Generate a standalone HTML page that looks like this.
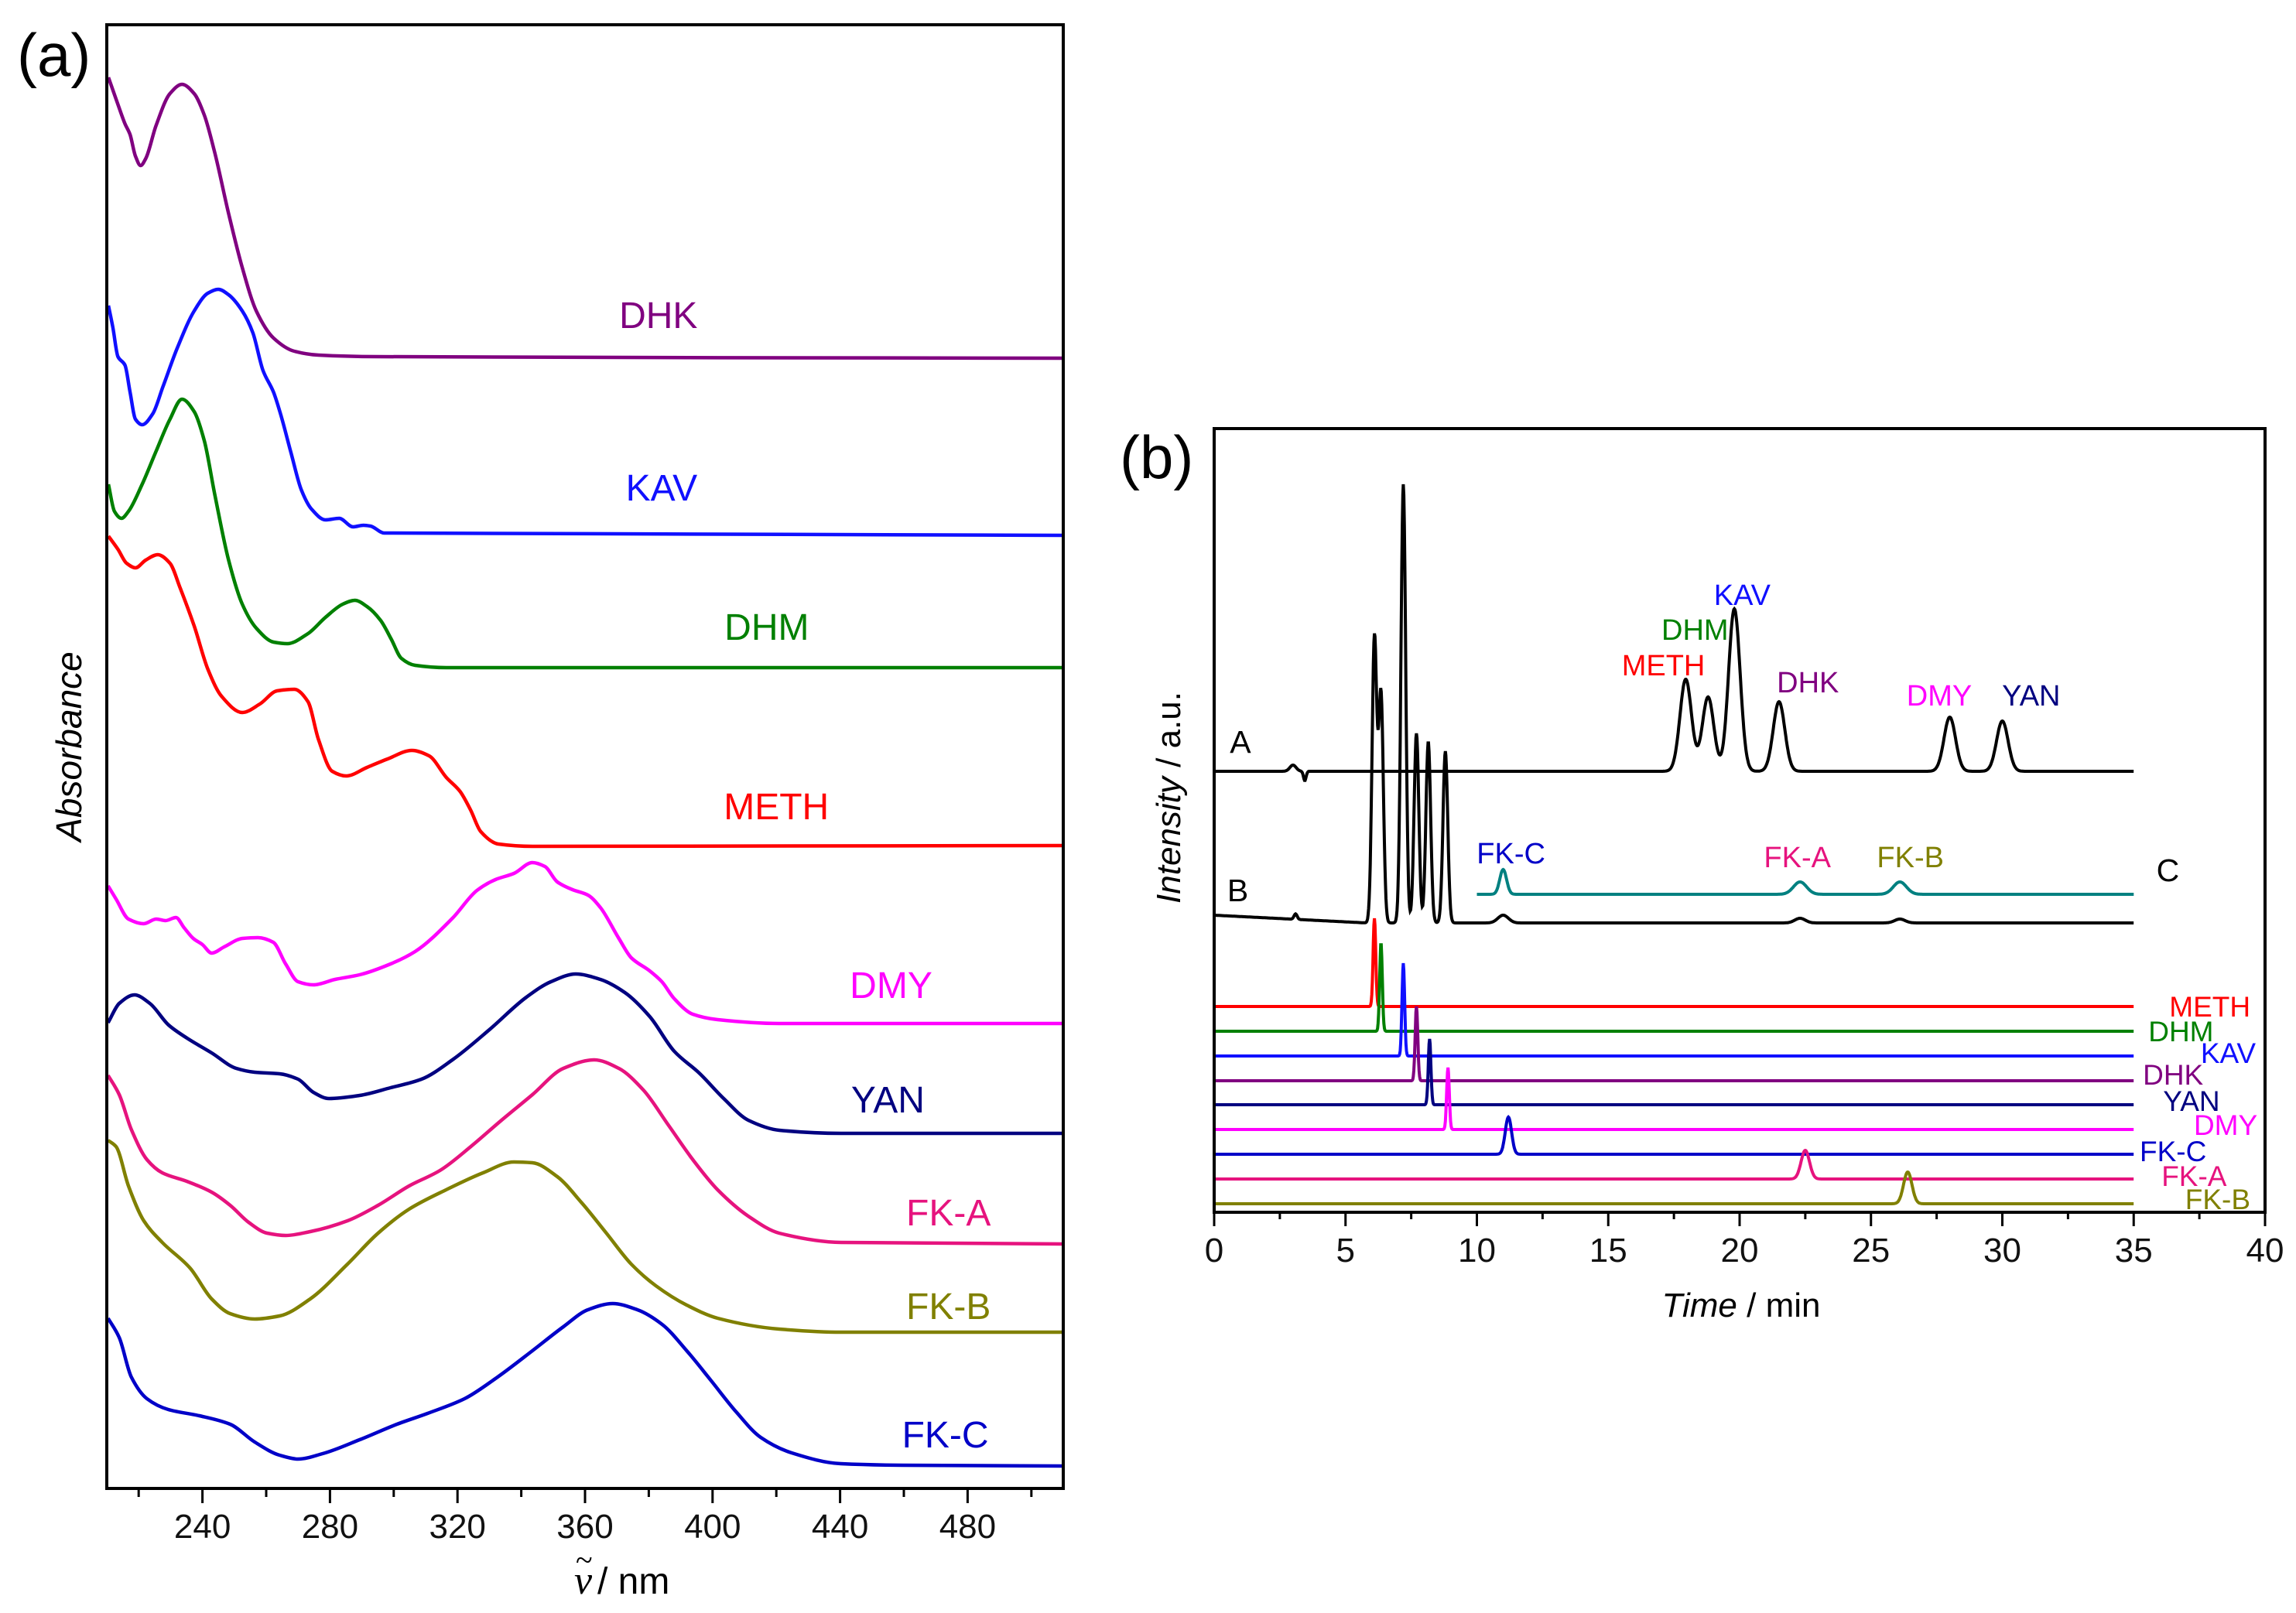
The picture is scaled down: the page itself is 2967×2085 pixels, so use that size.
<!DOCTYPE html>
<html><head><meta charset="utf-8"><style>
html,body{margin:0;padding:0;background:#fff;}
svg{display:block;font-family:"Liberation Sans",Arial,sans-serif;}
</style></head><body>
<svg id="fig" width="2967" height="2085" viewBox="0 0 2967 2085" xmlns="http://www.w3.org/2000/svg">
<rect x="0" y="0" width="2967" height="2085" fill="#fff"/>
<g id="pa"></g>
<g id="pb"></g>
</svg>
<script>
// ---------- Panel (a) data: UV spectra (wavelength nm, absorbance offset a.u.) ----------
const uvNames = ["DHK","KAV","DHM","METH","DMY","YAN","FK-A","FK-B","FK-C"];
const uvColors = ["#800080","#1010ff","#008000","#ff0000","#ff00ff","#000080","#e6137e","#808000","#0000c8"];
const uvWl_DHK = [210.5,213.5,215.7,217.3,219,220.6,222.2,225.4,229.8,233.6,237.4,240.6,243.9,248.2,252.5,256.9,262.3,268.8,276.4,294.8,510];
const uvAbs_DHK = [18.24,17.89,17.64,17.50,17.22,17.10,17.19,17.61,18.03,18.15,18.03,17.75,17.26,16.48,15.78,15.22,14.87,14.70,14.65,14.63,14.61];
const uvWl_KAV = [210.5,211.9,213.5,215.7,217.3,219,221.1,224.4,227.6,232,237.4,241.7,245,248.2,252.5,255.8,259,262.3,264.5,267.7,271,274.2,278.6,282.9,287.2,290.5,292.7,297,510];
const uvAbs_KAV = [15.29,15.01,14.63,14.52,14.17,13.82,13.75,13.89,14.24,14.73,15.22,15.45,15.50,15.43,15.22,14.94,14.45,14.17,13.89,13.40,12.91,12.66,12.52,12.54,12.43,12.45,12.44,12.35,12.32];
const uvWl_DHM = [210.5,212.4,214.6,216.8,221.1,225.4,229.8,233.6,237.4,240.6,243.9,248.2,252.5,256.9,262.3,266.6,273.1,278.6,284,287.8,291.6,295.9,299.2,302.4,306.7,316.5,510];
const uvAbs_DHM = [12.98,12.63,12.54,12.63,12.98,13.40,13.82,14.08,13.92,13.54,12.84,12.00,11.43,11.12,10.94,10.92,11.05,11.26,11.43,11.48,11.40,11.22,10.98,10.73,10.64,10.61,10.61];
const uvWl_METH = [210.5,213.5,216.2,219,222.2,226,229.8,233,237.4,241.7,246,252.5,258,263.4,268.8,273.1,276.4,280.7,285.1,291.6,298.1,305.7,311.1,316.5,320.8,324.1,327.3,332.8,343.6,510];
const uvAbs_METH = [12.31,12.14,11.96,11.90,12.00,12.07,11.96,11.64,11.15,10.59,10.24,10.03,10.14,10.31,10.33,10.17,9.68,9.27,9.21,9.32,9.43,9.54,9.47,9.19,9.01,8.77,8.49,8.33,8.30,8.31];
const uvWl_DMY = [210.4,212.9,216.8,221.6,225.5,228.4,231.7,234.2,237.1,240,242.9,246.8,252.6,257.4,262.2,266.1,270,274.8,281.6,289.3,299,306.7,318.4,326.1,331.9,337.7,343.5,347.4,351.3,356.1,360.9,364.8,370.6,374.5,380.3,384.1,388,393.8,401.6,420.9,510];
const uvAbs_DMY = [7.79,7.62,7.36,7.30,7.36,7.34,7.38,7.25,7.11,7.03,6.92,7.00,7.11,7.12,7.06,6.78,6.55,6.51,6.58,6.64,6.78,6.94,7.37,7.73,7.87,7.95,8.09,8.04,7.84,7.74,7.67,7.51,7.11,6.86,6.69,6.55,6.33,6.13,6.06,6.01,6.01];
const uvWl_YAN = [210.4,213.9,218.7,223.5,229.4,235.2,242.9,250.6,256.4,264.2,270,274.8,279.7,289.3,299,308.7,318.4,330,341.6,349.3,357.1,364.8,372.5,380.3,388,395.8,403.5,411.2,420.9,440.3,510];
const uvAbs_YAN = [6.02,6.27,6.38,6.27,5.99,5.82,5.63,5.43,5.38,5.36,5.29,5.12,5.04,5.08,5.18,5.29,5.54,5.93,6.35,6.55,6.65,6.58,6.41,6.10,5.65,5.37,5.04,4.76,4.63,4.59,4.59];
const uvWl_FKA = [210.4,213.9,217.7,222.6,227.4,235.1,242.9,248.7,254.5,260.3,266.1,273.8,285.5,295.1,304.8,314.5,324.2,333.8,343.5,353.2,362.9,370.6,378.3,386.1,393.8,401.6,411.2,420.9,440.3,510];
const uvAbs_FKA = [5.34,5.09,4.64,4.25,4.08,3.97,3.83,3.66,3.44,3.30,3.27,3.32,3.46,3.66,3.91,4.11,4.42,4.76,5.09,5.43,5.54,5.43,5.15,4.70,4.25,3.86,3.52,3.30,3.18,3.16];
const uvWl_FKB = [210.4,212.9,216.8,221.6,227.4,236.1,242.9,248.7,256.4,264.2,273.8,285.5,295.1,304.8,316.4,328,337.7,343.5,351.3,359,366.7,374.5,382.2,391.9,401.6,420.9,440.3,510];
const uvAbs_FKB = [4.50,4.42,3.91,3.46,3.18,2.85,2.45,2.26,2.19,2.23,2.45,2.90,3.30,3.61,3.86,4.08,4.22,4.21,4.03,3.69,3.30,2.90,2.62,2.37,2.20,2.06,2.02,2.02];
const uvWl_FKC = [210.4,213.9,217.7,222.6,229.3,239,248.7,256.4,264.2,270,277.7,289.3,301,310.6,322.2,331.9,343.5,353.2,360.9,368.7,376.4,384.2,391.9,399.6,407.4,415.1,424.8,440.3,459.6,510];
const uvAbs_FKC = [2.20,1.95,1.44,1.16,1.02,0.94,0.83,0.60,0.43,0.38,0.45,0.63,0.83,0.97,1.16,1.42,1.78,2.09,2.31,2.39,2.31,2.12,1.78,1.39,0.99,0.66,0.46,0.32,0.30,0.29];
const uvLabelWl = [383,384,417,420,456,455,474,474,473];
const uvLabelAbs = [15.17,12.94,11.14,8.82,6.51,5.03,3.57,2.36,0.70];
const uvTicks = [240,280,320,360,400,440,480];
const uvMinor = [220,260,300,340,380,420,460,500];

// ---------- Panel (b) data: chromatograms (time min, intensity a.u.) ----------
const bTicks = [0,5,10,15,20,25,30,35,40];
const bMinor = [2.5,7.5,12.5,17.5,22.5,27.5,32.5,37.5];
const aPeakT = [17.95,18.8,19.8,21.5,28.0,30.0];
const aPeakH = [1.19,0.96,2.10,0.90,0.70,0.65];
const aOffset = 5.70;
const bPeakT = [6.1,6.35,7.2,7.7,8.15,8.8,11.0,22.3,26.1,3.1];
const bPeakH = [3.68,2.95,5.67,2.45,2.34,2.22,0.10,0.06,0.05,0.07];
const bOffset = 3.74;
const cPeakT = [11.0,22.3,26.1];
const cPeakH = [0.32,0.16,0.16];
const cOffset = 4.11;
const stdNames = ["METH","DHM","KAV","DHK","YAN","DMY","FK-C","FK-A","FK-B"];
const stdColors = ["#ff0000","#008000","#1010ff","#800080","#000080","#ff00ff","#0000c8","#e6137e","#808000"];
const stdPeakT = [6.1,6.35,7.2,7.7,8.2,8.9,11.2,22.5,26.4];
const stdPeakH = [1.14,1.14,1.20,0.96,0.85,0.80,0.48,0.37,0.41];
const stdOffset = [2.66,2.34,2.02,1.70,1.39,1.07,0.75,0.43,0.11];
const stdLabelT = [37.9,36.8,38.6,36.5,37.2,38.5,36.5,37.3,38.2];
const stdLabelI = [2.66,2.34,2.06,1.78,1.44,1.13,0.79,0.47,0.17];
const aLabels = ["METH","DHM","KAV","DHK","DMY","YAN"];
const aLabelColors = ["#ff0000","#008000","#1010ff","#800080","#ff00ff","#000080"];
const aLabelT = [17.1,18.3,20.1,22.6,27.6,31.1];
const aLabelI = [7.08,7.54,7.99,6.86,6.69,6.69];
const fkLabels = ["FK-C","FK-A","FK-B"];
const fkLabelColors = ["#0000c8","#e6137e","#808000"];
const fkLabelT = [11.3,22.2,26.5];
const fkLabelI = [4.65,4.60,4.60];

const NS = "http://www.w3.org/2000/svg";
function mk(tag, attrs, parent){const e=document.createElementNS(NS,tag);for(const k in attrs)e.setAttribute(k,attrs[k]);parent.appendChild(e);return e;}
// monotone cubic (Fritsch-Carlson) interpolation, no overshoot
function smooth(pts){const n=pts.length;const dx=[],m=[],t=[];
 for(let i=0;i<n-1;i++){dx.push(pts[i+1][0]-pts[i][0]);m.push((pts[i+1][1]-pts[i][1])/dx[i]);}
 t[0]=m[0];t[n-1]=m[n-2];
 for(let i=1;i<n-1;i++){if(m[i-1]*m[i]<=0)t[i]=0;else{const w1=2*dx[i]+dx[i-1],w2=dx[i]+2*dx[i-1];t[i]=(w1+w2)/(w1/m[i-1]+w2/m[i]);}}
 let d="M"+pts[0][0].toFixed(1)+","+pts[0][1].toFixed(1);
 for(let i=0;i<n-1;i++){const h=dx[i]/3;
  d+="C"+(pts[i][0]+h).toFixed(1)+","+(pts[i][1]+t[i]*h).toFixed(1)+" "+(pts[i+1][0]-h).toFixed(1)+","+(pts[i+1][1]-t[i+1]*h).toFixed(1)+" "+pts[i+1][0].toFixed(1)+","+pts[i+1][1].toFixed(1);}
 return d;}

// ---------- Panel (a) ----------
const pa=document.getElementById("pa");
const aL=138,aR=1374,aT=32,aB=1924;
const xA=nm=>aL+(nm-210)/(510-210)*(aR-aL);
const yA=v=>aB-v*100;
const uvWl=[uvWl_DHK,uvWl_KAV,uvWl_DHM,uvWl_METH,uvWl_DMY,uvWl_YAN,uvWl_FKA,uvWl_FKB,uvWl_FKC];
const uvAbs=[uvAbs_DHK,uvAbs_KAV,uvAbs_DHM,uvAbs_METH,uvAbs_DMY,uvAbs_YAN,uvAbs_FKA,uvAbs_FKB,uvAbs_FKC];
for(let s=0;s<uvNames.length;s++){
 const pts=uvWl[s].map((w,i)=>[xA(w),yA(uvAbs[s][i])]);
 const p=mk("path",{d:smooth(pts),fill:"none",stroke:uvColors[s],"stroke-width":4.5,"stroke-linejoin":"round"},pa);
 
 
 const t=mk("text",{x:xA(uvLabelWl[s]),y:yA(uvLabelAbs[s])+17,"font-size":48,fill:uvColors[s],"text-anchor":"middle"},pa);
 t.textContent=uvNames[s];
 
 
}
const fa=mk("rect",{x:aL,y:aT,width:aR-aL,height:aB-aT,fill:"none",stroke:"#000","stroke-width":4},pa);


uvTicks.forEach(v=>{
 const l=mk("line",{x1:xA(v),x2:xA(v),y1:aB,y2:aB+19,stroke:"#000","stroke-width":3},pa);
 
 
 const t=mk("text",{x:xA(v),y:aB+64,"font-size":44,"text-anchor":"middle",fill:"#111"},pa);
 t.textContent=v;
 
 
});
uvMinor.forEach(v=>{
 const l=mk("line",{x1:xA(v),x2:xA(v),y1:aB,y2:aB+11,stroke:"#000","stroke-width":3},pa);
 
 
});

// ---------- Panel (b) ----------
const pb=document.getElementById("pb");
const bL=1569,bR=2927,bT=554,bB=1567;
const xB=t=>bL+t/40*(bR-bL);
const yB=v=>bB-v*100;
function trace(t0,t1,off,pt,ph,sig,extra){const pts=[];
 for(let t=t0;t<=t1+1e-9;t+=0.02){let v=off;
  for(let i=0;i<pt.length;i++){const sg=sig(pt[i]);v+=ph[i]*Math.exp(-0.5*Math.pow((t-pt[i])/sg,2));}
  if(extra)v+=extra(t);pts.push([xB(t),yB(v)]);}
 return "M"+pts.map(p=>p[0].toFixed(1)+","+p[1].toFixed(1)).join("L");}
const sigWide=t=>t<10?0.08:(t<15?0.12:0.22);
let e;
e=mk("path",{d:trace(0,35,aOffset,aPeakT,aPeakH,sigWide,t=>0.08*Math.exp(-0.5*Math.pow((t-3.0)/0.12,2))-0.12*Math.exp(-0.5*Math.pow((t-3.45)/0.05,2))),fill:"none",stroke:"#000","stroke-width":4},pb);


e=mk("path",{d:trace(0,35,bOffset,bPeakT,bPeakH,t=>t<4?0.06:(t<10?0.09:0.2),t=>t<5.8?0.10*(1-t/5.8):0),fill:"none",stroke:"#000","stroke-width":4},pb);


e=mk("path",{d:trace(10,35,cOffset,cPeakT,cPeakH,t=>t<15?0.13:0.25),fill:"none",stroke:"#008080","stroke-width":4},pb);


for(let s=0;s<stdNames.length;s++){
 const sg=stdPeakT[s]<10?0.05:(stdPeakT[s]<15?0.12:0.16);
 const p=mk("path",{d:trace(0,35,stdOffset[s],[stdPeakT[s]],[stdPeakH[s]],()=>sg),fill:"none",stroke:stdColors[s],"stroke-width":4},pb);
 
 
 const t=mk("text",{x:xB(stdLabelT[s]),y:yB(stdLabelI[s])+13,"font-size":37,fill:stdColors[s],"text-anchor":"middle"},pb);
 t.textContent=stdNames[s];
 
 
}
aLabels.forEach((n,i)=>{
 const t=mk("text",{x:xB(aLabelT[i]),y:yB(aLabelI[i])+14,"font-size":38,fill:aLabelColors[i],"text-anchor":"middle"},pb);
 t.textContent=n;
 
 
});
fkLabels.forEach((n,i)=>{
 const t=mk("text",{x:xB(fkLabelT[i]),y:yB(fkLabelI[i])+14,"font-size":38,fill:fkLabelColors[i],"text-anchor":"middle"},pb);
 t.textContent=n;
 
 
});
[["A",1.0,6.09],["B",0.9,4.17],["C",36.3,4.43]].forEach(a=>{
 const t=mk("text",{x:xB(a[1]),y:yB(a[2])+15,"font-size":41,fill:"#000","text-anchor":"middle"},pb);
 t.textContent=a[0];
 
 
});
const fb=mk("rect",{x:bL,y:bT,width:bR-bL,height:bB-bT,fill:"none",stroke:"#000","stroke-width":4},pb);


bTicks.forEach(v=>{
 const l=mk("line",{x1:xB(v),x2:xB(v),y1:bB,y2:bB+18,stroke:"#000","stroke-width":3},pb);
 
 
 const t=mk("text",{x:xB(v),y:bB+64,"font-size":44,"text-anchor":"middle",fill:"#111"},pb);
 t.textContent=v;
 
 
});
bMinor.forEach(v=>{
 const l=mk("line",{x1:xB(v),x2:xB(v),y1:bB,y2:bB+9,stroke:"#000","stroke-width":3},pb);
 
 
});
</script>
<svg style="position:absolute;left:0;top:0" width="2967" height="2085" xmlns="http://www.w3.org/2000/svg">
<text x="22" y="98" font-size="78" font-family="Liberation Sans, sans-serif">(a)</text>
<text x="1447" y="618" font-size="78" font-family="Liberation Sans, sans-serif">(b)</text>
<text transform="translate(105,965) rotate(-90)" font-size="46" font-style="italic" text-anchor="middle" font-family="Liberation Sans, sans-serif">Absorbance</text>
<g font-family="Liberation Sans, sans-serif" font-size="48">
<text x="742" y="2060" font-family="Liberation Serif, serif" font-style="italic" font-size="52">ν</text>
<text x="744" y="2030" font-family="Liberation Serif, serif" font-size="40">~</text>
<text x="772" y="2060">/ nm</text>
</g>
<text transform="translate(1525,1031) rotate(-90)" font-size="44" text-anchor="middle" font-family="Liberation Sans, sans-serif"><tspan font-style="italic">Intensity</tspan> / a.u.</text>
<text x="2250" y="1702" font-size="44" text-anchor="middle" font-family="Liberation Sans, sans-serif"><tspan font-style="italic">Time</tspan> / min</text>
</svg>
</body></html>
